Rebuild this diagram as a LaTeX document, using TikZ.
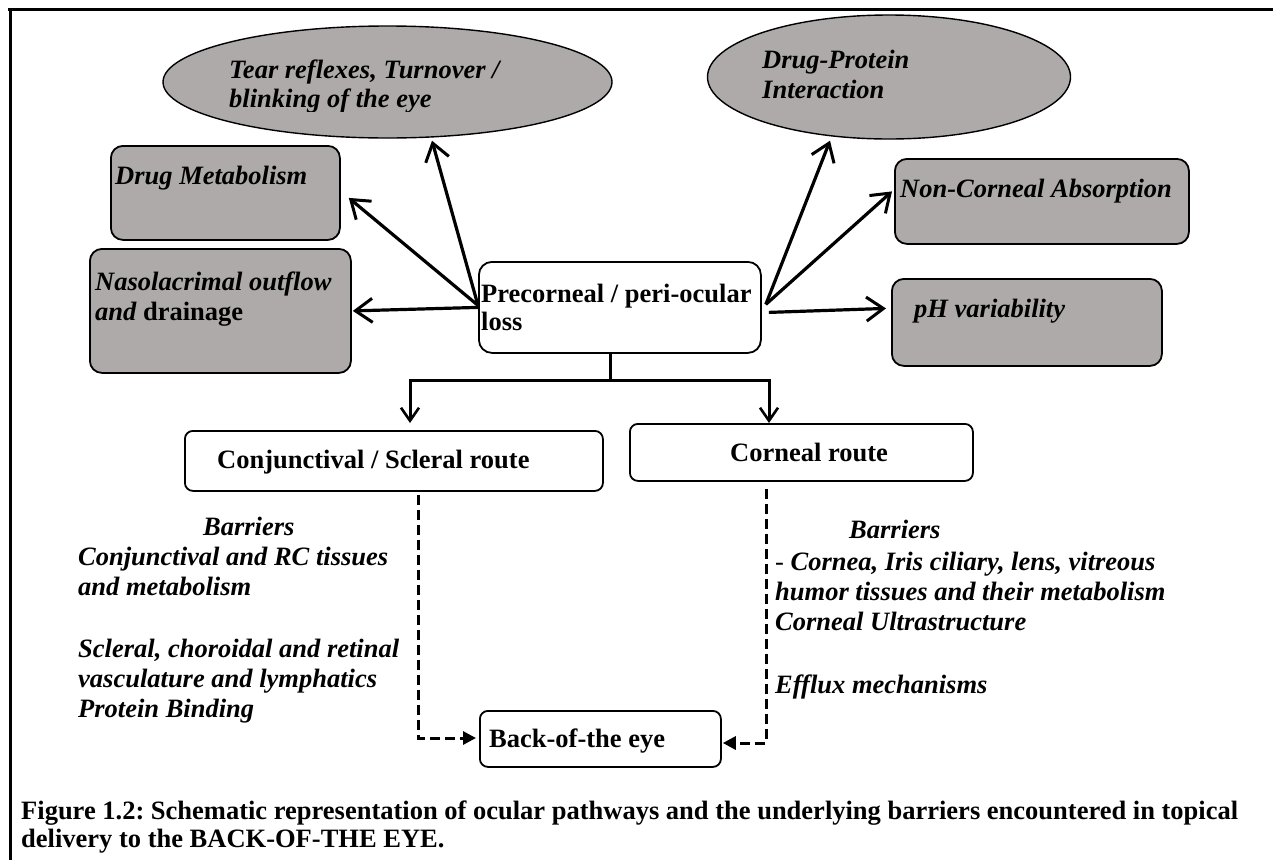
\documentclass[tikz,border=0pt]{standalone}
\usepackage{fontspec}
\setmainfont{Liberation Serif}
\usetikzlibrary{shapes.geometric,arrows.meta,calc}
\definecolor{boxgray}{RGB}{174,170,170}
\newcommand\figfont{\fontsize{26.5}{30.5}\selectfont}
\tikzset{
  graybox/.style={draw, line width=1.8pt, rounded corners=12pt, fill=boxgray, anchor=north west, inner sep=0pt},
  whitebox/.style={graybox, fill=white},
  grayoval/.style={draw, ellipse, line width=1.4pt, fill=boxgray, inner sep=0pt},
  lab/.style={anchor=base west, inner sep=0pt, font=\figfont\bfseries\itshape},
  blab/.style={anchor=base west, inner sep=0pt, font=\figfont\bfseries},
  lossarrow/.style={line width=3.2pt, -{Straight Barb[length=17pt,width=24pt,line width=3pt]}},
  routearrow/.style={line width=3pt, -{Straight Barb[length=13pt,width=18pt,line width=2.6pt]}},
  dasharrow/.style={line width=3pt, dash pattern=on 10pt off 5pt, -{Triangle[length=13pt,width=13pt]}}
}
\begin{document}
\begin{tikzpicture}[x=1pt,y=-1pt]
\frenchspacing
\useasboundingbox (0,0) rectangle (1273,860);
% frame
\draw [line width=3pt] (8,9) -- (1273,9);
\draw [line width=3pt] (10,9) -- (10,860);

% loss factors
\node (tear) [grayoval, minimum width=449pt, minimum height=112pt] at (387.5,82) {};
\begin{scope}
\clip (150,20) rectangle (620,111);
\node (tear1) [lab] at (229,78) {Tear reflexes, Turnover /};
\node (tear2) [lab] at (229,107) {blinking of the eye};
\end{scope}
\node (protein) [grayoval, minimum width=363pt, minimum height=124pt] at (889,77) {};
\node (protein1) [lab] at (762,68) {Drug-Protein};
\node (protein2) [lab] at (762,98) {Interaction};
\node (drugmet) [graybox, minimum width=229pt, minimum height=94pt] at (110,145) {};
\node (drugmet1) [lab] at (115,184) {Drug Metabolism};
\node (naso) [graybox, minimum width=261pt, minimum height=124pt] at (89,248) {};
\node (naso1) [lab] at (95,290) {Nasolacrimal outflow};
\node (naso2) [lab] at (95,320) {and \upshape drainage};
\node (noncorn) [graybox, minimum width=294pt, minimum height=85pt] at (894,158) {};
\node (noncorn1) [lab] at (900,197) {Non-Corneal Absorption};
\node (ph) [graybox, minimum width=270pt, minimum height=87pt] at (891,278) {};
\node (ph1) [lab] at (914,317) {pH variability};

% precorneal loss
\node (prec) [whitebox, rounded corners=13pt, minimum width=282pt, minimum height=91pt] at (478,261) {};
\node (prec1) [blab] at (481,302) {Precorneal / peri-ocular};
\node (prec2) [blab] at (481,330) {loss};

\draw [lossarrow] (prec.west) -- ($(naso.east)+(1,0)$);
\draw [lossarrow] ($(prec.west)+(0,-2)$) -- ($(drugmet.east)+(8,5)$);
\draw [lossarrow] ($(prec.west)+(0,-2)$) -- ($(tear.south)+(44.5,2)$);
\draw [lossarrow] ($(prec.east)+(4,-3)$) -- ($(protein.south)+(-59,1)$);
\draw [lossarrow] ($(prec.east)+(4,-3)$) -- ($(noncorn.west)+(-2,-10)$);
\draw [lossarrow] ($(prec.east)+(7,5)$) -- ($(ph.west)+(-5,-14)$);

% routes
\node (conj) [whitebox, rounded corners=8pt, minimum width=418pt, minimum height=60pt] at (184,430) {};
\node (conj1) [blab] at (217,468) {Conjunctival / Scleral route};
\node (corn) [whitebox, rounded corners=8pt, minimum width=343pt, minimum height=57pt] at (629,423) {};
\node (corn1) [blab] at (730,461) {Corneal route};
\node (back) [whitebox, rounded corners=8pt, minimum width=241pt, minimum height=56pt] at (479,710) {};
\node (back1) [blab] at (489,747) {Back-of-the eye};

\coordinate (fork) at (610,380);
\coordinate (forkL) at (410,380);
\coordinate (forkR) at (769,380);
\draw [line width=3pt] (fork |- prec.south) -- (fork);
\draw [line width=3pt] ($(forkL)+(-1.5,0)$) -- ($(forkR)+(1.5,0)$);
\draw [routearrow, shorten >=7pt] (forkL) -- (forkL |- conj.north);
\draw [routearrow] (forkR) -- (forkR |- corn.north);

\coordinate (dashL) at (418,738);
\coordinate (dashR) at (766,743);
\draw [dasharrow] ($(conj.south -| dashL)+(0,3)$) -- (dashL) -- ($(dashL -| back.west)+(-3,0)$);
\draw [dasharrow] ($(corn.south -| dashR)+(0,7)$) -- (dashR) -- ($(dashR -| back.east)+(1,0)$);

% barriers
\node (barL0) [lab] at (203,535) {Barriers};
\node (barL1) [lab] at (78,565) {Conjunctival and RC tissues};
\node (barL2) [lab] at (78,595) {and metabolism};
\node (barL3) [lab] at (78,657) {Scleral, choroidal and retinal};
\node (barL4) [lab] at (78,687) {vasculature and lymphatics};
\node (barL5) [lab] at (78,717) {Protein Binding};
\node (barR0) [lab] at (849,538) {Barriers};
\node (barR1) [lab] at (775,570) {{\mdseries\upshape -} Cornea, Iris ciliary, lens, vitreous};
\node (barR2) [lab] at (775,600) {humor tissues and their metabolism};
\node (barR3) [lab] at (775,630) {Corneal Ultrastructure};
\node (barR4) [lab] at (775,693) {Efflux mechanisms};

% caption
\node (cap1) [blab] at (21,819) {Figure 1.2: Schematic representation of ocular pathways and the underlying barriers encountered in topical};
\node (cap2) [blab] at (21,847) {delivery to the BACK-OF-THE EYE.};
\end{tikzpicture}
\end{document}
